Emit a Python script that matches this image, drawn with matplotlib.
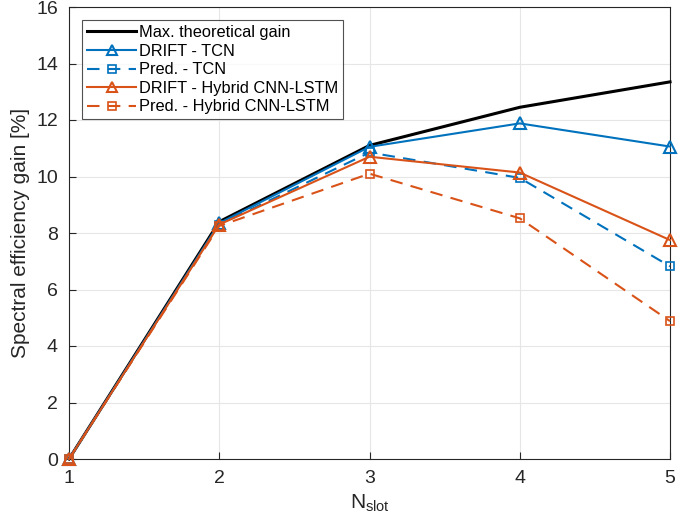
import matplotlib
matplotlib.use("Agg")
import matplotlib.pyplot as plt

plt.rcParams["font.family"] = ["Liberation Sans", "DejaVu Sans"]

n_slot = [1, 2, 3, 4, 5]
max_gain = [0.0, 8.4, 11.1, 12.45, 13.35]
drift_tcn = [0.0, 8.35, 11.05, 11.88, 11.06]
pred_tcn = [0.0, 8.3, 10.85, 9.95, 6.82]
drift_hyb = [0.0, 8.3, 10.7, 10.14, 7.75]
pred_hyb = [0.0, 8.25, 10.1, 8.52, 4.88]

BLUE = "#0072BD"
ORANGE = "#D95319"

fig = plt.figure(figsize=(6.97, 5.2), dpi=100)
ax = fig.add_axes([69 / 697, 1 - 459 / 520, (670 - 69) / 697, (459 - 7) / 520])

common = dict(clip_on=False, zorder=3)
ax.plot(n_slot, max_gain, color="black", lw=2.2, label="Max. theoretical gain",
        **common)
ax.plot(n_slot, drift_tcn, color=BLUE, lw=1.5, marker="^", ms=8, mfc="none",
        mew=1.5, label="DRIFT - TCN", **common)
ax.plot(n_slot, pred_tcn, color=BLUE, lw=1.5, ls=(0, (6, 4)), marker="s", ms=6,
        mfc="none", mew=1.2, label="Pred. - TCN", **common)
ax.plot(n_slot, drift_hyb, color=ORANGE, lw=1.5, marker="^", ms=8, mfc="none",
        mew=1.5, label="DRIFT - Hybrid CNN-LSTM", **common)
ax.plot(n_slot, pred_hyb, color=ORANGE, lw=1.5, ls=(0, (6, 4)), marker="s", ms=6,
        mfc="none", mew=1.2, label="Pred. - Hybrid CNN-LSTM", **common)

ax.set_xlim(1, 5)
ax.set_ylim(0, 16)
ax.set_xticks(n_slot)
ax.set_yticks(range(0, 17, 2))
ax.tick_params(direction="in", labelsize=14, length=5, pad=8, color="#262626",
               labelcolor="#262626")
ax.grid(True, color="#e6e6e6", lw=0.8)
ax.set_axisbelow(True)
for s in ax.spines.values():
    s.set_color("#262626")
    s.set_linewidth(0.8)

ax.set_xlabel(r"N$_\mathregular{slot}$", fontsize=15, color="#262626", labelpad=4)
ax.set_ylabel("Spectral efficiency gain [%]", fontsize=15, color="#262626",
              labelpad=4)

leg = ax.legend(loc="upper left", fontsize=11.8, frameon=True, fancybox=False,
                borderpad=0.3, labelspacing=0.22, handlelength=3.0,
                handletextpad=0.15, borderaxespad=0.8, markerscale=0.85)
leg.get_frame().set_edgecolor("#262626")
leg.get_frame().set_linewidth(0.8)

fig.savefig("out.png", dpi=100)
